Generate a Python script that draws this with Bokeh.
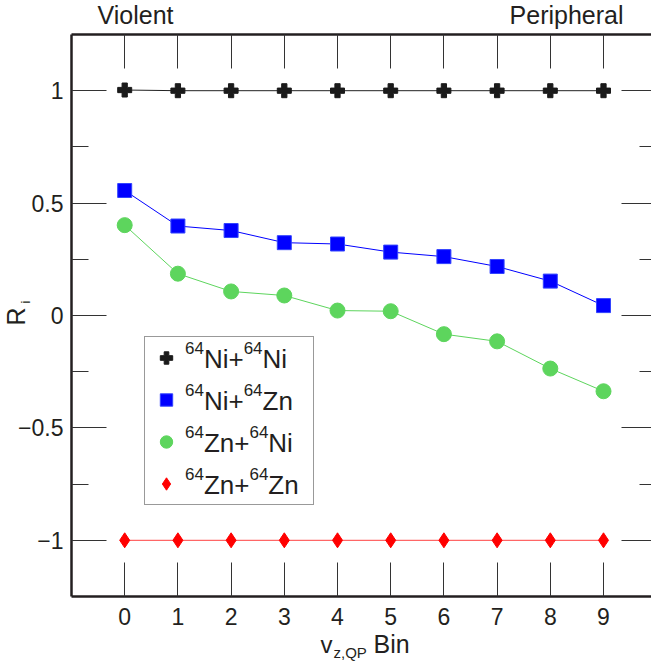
import math
from bokeh.plotting import figure
from bokeh.models import (Range1d, LinearAxis, FixedTicker, CustomJSTickFormatter,
                          Label, Legend, LegendItem)
from bokeh.embed import file_html
from bokeh.resources import INLINE

# ---- data ----
bins = [0, 1, 2, 3, 4, 5, 6, 7, 8, 9]
ni_ni = [1.003, 1.0, 1.0, 1.0, 1.0, 1.0, 1.0, 1.0, 1.0, 1.0]
ni_zn = [0.556, 0.398, 0.378, 0.324, 0.318, 0.282, 0.262, 0.218, 0.153, 0.044]
zn_ni = [0.402, 0.186, 0.107, 0.089, 0.022, 0.019, -0.083, -0.115, -0.236, -0.337]
zn_zn = [-1.0, -1.0, -1.0, -1.0, -1.0, -1.0, -1.0, -1.0, -1.0, -1.0]
# legend labels as (superscript, text, superscript, text)
series_labels = [["64", "Ni+", "64", "Ni"],
                 ["64", "Ni+", "64", "Zn"],
                 ["64", "Zn+", "64", "Ni"],
                 ["64", "Zn+", "64", "Zn"]]
y_ticks = [-1, -0.5, 0, 0.5, 1]
y_minor_ticks = [-0.75, -0.25, 0.25, 0.75]

FONT = "Liberation Sans"
INK = "#231f20"
TICK = "#333333"
ADV = {"6": 0.556, "4": 0.556, "N": 0.722, "i": 0.222, "+": 0.584, "Z": 0.611, "n": 0.556}

W, H = 651, 661
KX, KY = 53.2, 224.8          # pixels per data unit
X0 = -1 - 71 / KX             # data x at the left edge of the canvas
Y1 = 1.25 + 34 / KY           # data y at the top edge of the canvas

p = figure(width=W, height=H, output_backend="svg", toolbar_location=None,
           x_range=Range1d(X0, X0 + W / KX), y_range=Range1d(Y1 - H / KY, Y1),
           x_axis_location=None, y_axis_location=None,
           min_border_left=0, min_border_right=0, min_border_top=0, min_border_bottom=0)
p.grid.visible = False
p.outline_line_color = None
p.background_fill_color = "white"
p.border_fill_color = "white"


def make_axis(ticker, formatter, loc, bounds, tin, minor_in, show_labels, line=True):
    ax = LinearAxis(ticker=ticker, fixed_location=loc, bounds=bounds)
    if formatter is not None:
        ax.formatter = formatter
    ax.axis_line_width = 2.5
    ax.axis_line_color = INK if line else None
    ax.major_tick_in = tin
    ax.major_tick_out = 0
    ax.minor_tick_in = minor_in
    ax.minor_tick_out = 0
    ax.major_tick_line_color = TICK
    ax.minor_tick_line_color = TICK
    ax.major_tick_line_width = 1
    ax.minor_tick_line_width = 1
    ax.major_label_text_font = FONT
    ax.major_label_text_color = INK
    if show_labels:
        ax.major_label_text_font_size = "23px"
    else:
        ax.major_label_text_font_size = "0px"
        ax.major_label_standoff = 0
    return ax


fmt_y = CustomJSTickFormatter(code="return tick < 0 ? '\u2212' + (-tick) : String(tick);")
blank = CustomJSTickFormatter(code="return '';")

bottom = make_axis(FixedTicker(ticks=bins), None, -1.25, (-1, 10), 34, 0, True)
bottom.major_label_standoff = 11
p.add_layout(bottom, "below")

top = make_axis(FixedTicker(ticks=bins), blank, 1.25, (-1, 10), 34, 0, False)
p.add_layout(top, "above")

left = make_axis(FixedTicker(ticks=y_ticks, minor_ticks=y_minor_ticks), fmt_y, -1,
                 (-1.25, 1.25), 35, 17, True)
left.major_label_standoff = 8
p.add_layout(left, "left")

right = make_axis(FixedTicker(ticks=y_ticks, minor_ticks=y_minor_ticks), blank, 10,
                  (-1.25, 1.25), 35, 17, False)
p.add_layout(right, "right")

# ---- series ----
p.line(bins, ni_ni, line_color="#222222", line_width=1)
r1 = p.scatter(bins, ni_ni, marker="plus", size=14, fill_color="#1a1a1a", line_color="#1a1a1a")
p.line(bins, ni_zn, line_color="#0000ff", line_width=1)
r2 = p.scatter(bins, ni_zn, marker="square", size=14, fill_color="#0000ff", line_color="#3344ff")
p.line(bins, zn_ni, line_color="#5dd55d", line_width=1)
r3 = p.scatter(bins, zn_ni, marker="circle", size=15, fill_color="#5dd55d", line_color="#5dd55d")
p.line(bins, zn_zn, line_color="#ff4040", line_width=1)
r4 = p.scatter(bins, zn_zn, marker="diamond", size=15, fill_color="#ff0000", line_color="#ff0000")

legend = Legend(items=[LegendItem(label=" ", renderers=[r]) for r in [r1, r2, r3, r4]],
                location=(144, H - 505), margin=0, padding=5, spacing=11,
                glyph_width=32, glyph_height=31, label_height=31, label_standoff=0,
                label_width=126,
                label_text_font=FONT, label_text_font_size="26px", label_text_color=INK,
                border_line_color="#333333", border_line_width=1,
                background_fill_color="white", background_fill_alpha=0)
p.add_layout(legend)


# ---- text labels (pixel positions converted to data space) ----
def xd(px):
    return X0 + px / KX


def yd(py):
    return Y1 - py / KY


def lab(text, x, y, size, align="left", angle=0.0):
    # x, y: wanted baseline position in pixels; Bokeh draws the alphabetic baseline
    # about a third of the font size below the anchor, so compensate.
    s = float(size.replace("px", ""))
    shift = s / 3.0
    if angle:
        x -= shift
    else:
        y -= shift
    p.add_layout(Label(x=xd(x), y=yd(y), text=text, text_font=FONT, text_font_size=size,
                       text_color=INK, text_align=align, text_baseline="alphabetic",
                       angle=angle))


lab("Violent", 135, 23, "25px", "center")
lab("Peripheral", 623, 23, "25px", "right")
lab("v", 320, 652, "24px")
lab("z,QP", 333, 657, "15px")
lab("Bin", 373, 652, "25px")
lab("R", 24, 325, "25px", angle=math.pi / 2)
lab("i", 29, 303, "13px", angle=math.pi / 2)

# legend texts with real superscripts
for k, parts in enumerate(series_labels):
    base = 367 + 42 * k
    cx = 184.5
    for j, part in enumerate(parts):
        sup = (j % 2 == 0)
        size = 17 if sup else 26
        lab(part, cx, base - 14 if sup else base, "%dpx" % size)
        cx += sum(ADV[c] for c in part) * size

open("out.html", "w").write(file_html(p, INLINE))
